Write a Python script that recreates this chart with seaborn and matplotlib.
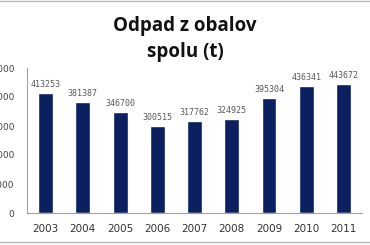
import matplotlib
matplotlib.use("Agg")
import matplotlib.pyplot as plt
import seaborn as sns
import pandas as pd
from matplotlib.lines import Line2D

years = ["2003", "2004", "2005", "2006", "2007", "2008", "2009", "2010", "2011"]
values = [413253, 381387, 346700, 300515, 317762, 324925, 395304, 436341, 443672]
yticks = [0, 100000, 200000, 300000, 400000, 500000]

sns.set_style("white")
plt.rcParams["font.family"] = ["DejaVu Sans"]

df = pd.DataFrame({"year": years, "value": values})

fig = plt.figure(figsize=(3.7, 2.45), dpi=100)
ax = fig.add_axes([27/370, 1-213/245, (362-27)/370, (213-68)/245])
sns.barplot(data=df, x="year", y="value", color="#0c1f5e", width=0.4,
            saturation=1, ax=ax)
ax.set_ylim(0, 500000)
ax.set_xlim(-0.5, 8.5)
ax.set_yticks(yticks)
ax.set_yticklabels([str(v) for v in yticks], fontsize=6.5, color="#444444")
ax.tick_params(axis="x", labelsize=7.5, colors="#333333", length=0, pad=8)
ax.tick_params(axis="y", length=0, pad=9)
ax.set_xlabel("")
ax.set_ylabel("")
for s in ["top", "right"]:
    ax.spines[s].set_visible(False)
for s in ["left", "bottom"]:
    ax.spines[s].set_color("#9aa3b0")
    ax.spines[s].set_linewidth(0.8)

for i, v in enumerate(values):
    ax.annotate(str(v), (i, v), xytext=(0, 3), textcoords="offset points",
                ha="center", va="bottom", fontsize=6, color="#5a5a5a",
                family="DejaVu Sans Mono")

fig.text(185/370, 1-39/245, "Odpad z obalov\nspolu (t)", ha="center", va="center",
         fontsize=13.5, fontweight="bold", family="Open Sans", linespacing=1.4,
         color="#111111")

fig.add_artist(Line2D([0, 1], [1-1.5/245, 1-1.5/245], color="#b8b8b8", lw=1.0,
                      transform=fig.transFigure))
fig.add_artist(Line2D([0, 1], [1-241.5/245, 1-241.5/245], color="#b8b8b8", lw=1.0,
                      transform=fig.transFigure))

fig.savefig("out.png", dpi=100)
